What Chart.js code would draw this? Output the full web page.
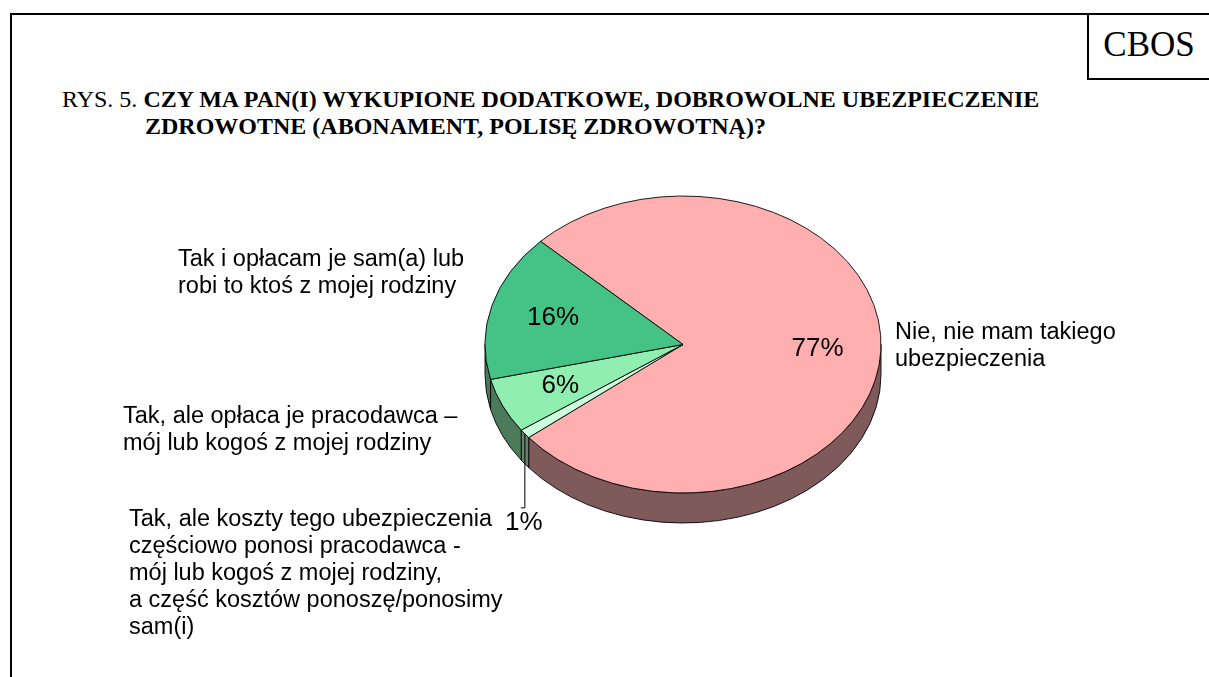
<!DOCTYPE html>
<html>
<head>
<meta charset="utf-8">
<script src="https://cdn.jsdelivr.net/npm/chart.js@4/dist/chart.umd.min.js"></script>
<style>
  body { margin: 0; background: #fff; width: 1209px; height: 677px; overflow: hidden; position: relative; }
  canvas { position: absolute; left: 0; top: 0; }
  #frame { position: absolute; left: 10px; top: 13px; width: 1199px; height: 664px;
           border-left: 2px solid #000; border-top: 2px solid #000; box-sizing: border-box; }
  #cbos { position: absolute; left: 1087px; top: 13px; width: 122px; height: 67px;
          border-left: 2px solid #000; border-bottom: 2px solid #000; box-sizing: border-box;
          font: 35px "Liberation Serif"; text-align: center; line-height: 64px; }
  #title { position: absolute; left: 62px; top: 86px; font: 24px "Liberation Serif"; line-height: 27px; white-space: nowrap; }
  #title .l2 { padding-left: 83px; }
</style>
</head>
<body>
<div id="frame"></div>
<div id="cbos">CBOS</div>
<div id="title">
  <div>RYS. 5. <b>CZY MA PAN(I) WYKUPIONE DODATKOWE, DOBROWOLNE UBEZPIECZENIE</b></div>
  <div class="l2"><b>ZDROWOTNE (ABONAMENT, POLISĘ ZDROWOTNĄ)?</b></div>
</div>
<canvas id="pie" width="1209" height="677"></canvas>
<script>
// answers, clockwise from the top-left edge of the big slice
const categories = [
  ["Nie, nie mam takiego", "ubezpieczenia"],
  ["Tak, ale koszty tego ubezpieczenia", "częściowo ponosi pracodawca -", "mój lub kogoś z mojej rodziny,", "a część kosztów ponoszę/ponosimy", "sam(i)"],
  ["Tak, ale opłaca je pracodawca –", "mój lub kogoś z mojej rodziny"],
  ["Tak i opłacam je sam(a) lub", "robi to ktoś z mojej rodziny"]
];
const shares = [77, 1, 6, 16];

const topColors = ['#ffafaf', '#ccffdd', '#90eeb0', '#45c286'];
const sideColors = ['#7f5a5a', '#66806c', '#4c7b5c', '#487a5a'];
const labelPos = [[895, 333], [129, 520], [123, 417], [178, 260]];

const SQUASH = 0.75;
const DEPTH = 30;
const CX = 683, CY = 344.5, R = 198;

// squash the pie into an ellipse and give it a side wall
const pie3d = {
  id: 'pie3d',
  beforeDatasetsDraw(chart) {
    const ctx = chart.ctx;
    const arcs = chart.getDatasetMeta(0).data;
    const cy = arcs[0].y;
    ctx.save();
    ctx.translate(0, cy);
    ctx.scale(1, SQUASH);
    ctx.translate(0, -cy);
    const d = DEPTH / SQUASH;
    arcs.forEach((a, i) => {
      for (let k = -1; k <= 2; k++) {
        const s = Math.max(a.startAngle, k * 2 * Math.PI);
        const e = Math.min(a.endAngle, k * 2 * Math.PI + Math.PI);
        if (e <= s) continue;
        ctx.beginPath();
        ctx.arc(a.x, a.y, a.outerRadius, s, e);
        ctx.lineTo(a.x + Math.cos(e) * a.outerRadius, a.y + d + Math.sin(e) * a.outerRadius);
        ctx.arc(a.x, a.y + d, a.outerRadius, e, s, true);
        ctx.closePath();
        ctx.fillStyle = sideColors[i];
        ctx.fill();
        ctx.lineWidth = 1;
        ctx.strokeStyle = '#000';
        ctx.stroke();
      }
    });
  },
  afterDatasetsDraw(chart) {
    chart.ctx.restore();
  },
  afterDraw(chart) {
    const ctx = chart.ctx;
    const arcs = chart.getDatasetMeta(0).data;
    ctx.save();
    ctx.fillStyle = '#000';
    ctx.strokeStyle = '#000';
    ctx.lineWidth = 1;
    ctx.textAlign = 'center';
    ctx.textBaseline = 'middle';
    ctx.font = '26px "Liberation Sans", Arial';
    arcs.forEach((a, i) => {
      const mid = (a.startAngle + a.endAngle) / 2;
      const txt = shares[i] + '%';
      if (shares[i] < 3) {
        const ex = a.x + Math.cos(mid) * a.outerRadius;
        const ey = a.y + Math.sin(mid) * a.outerRadius * SQUASH;
        ctx.beginPath();
        ctx.moveTo(ex, ey);
        ctx.lineTo(ex, ey + 74);
        ctx.lineTo(ex - 4, ey + 74);
        ctx.stroke();
        ctx.fillText(txt, ex - 1, ey + 89);
      } else {
        const r = a.outerRadius * 0.68;
        ctx.fillText(txt, a.x + Math.cos(mid) * r, a.y + Math.sin(mid) * r * SQUASH);
      }
    });
    ctx.textAlign = 'left';
    ctx.font = '23.5px "Liberation Sans", Arial';
    categories.forEach((lines, i) => {
      lines.forEach((t, j) => ctx.fillText(t, labelPos[i][0], labelPos[i][1] + j * 27));
    });
    ctx.restore();
  }
};

new Chart(document.getElementById('pie'), {
  type: 'pie',
  data: {
    labels: categories,
    datasets: [{
      data: shares,
      backgroundColor: topColors,
      borderColor: '#000',
      borderWidth: 1,
      radius: R,
      clip: false
    }]
  },
  options: {
    responsive: false,
    animation: false,
    events: [],
    rotation: 314,
    layout: {
      padding: { left: CX - 250, right: 1209 - CX - 250, top: CY - 250, bottom: 677 - CY - 250 }
    },
    plugins: {
      legend: { display: false },
      tooltip: { enabled: false }
    }
  },
  plugins: [pie3d]
});
</script>
</body>
</html>
